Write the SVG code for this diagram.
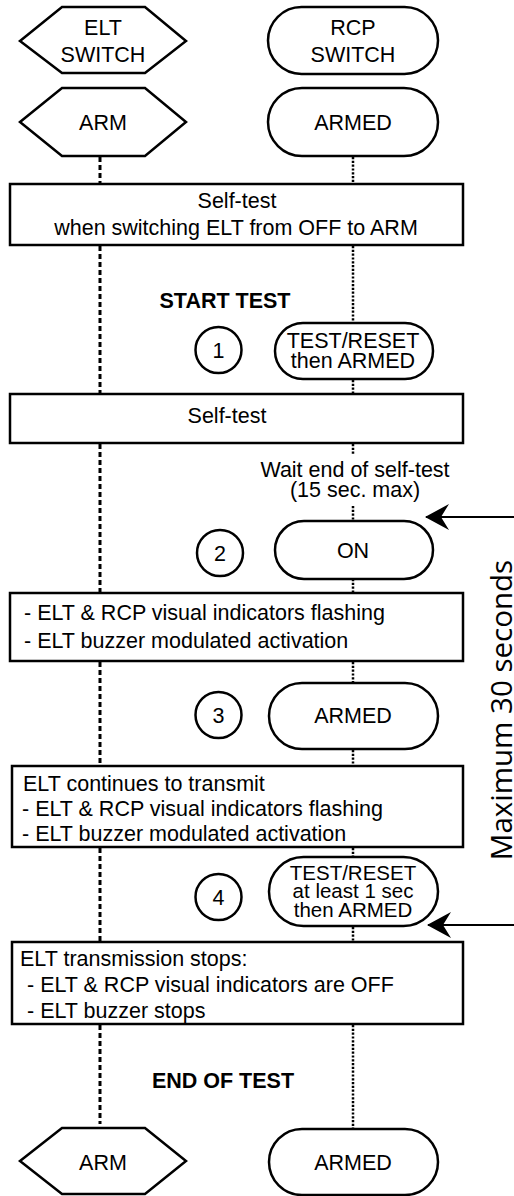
<svg xmlns="http://www.w3.org/2000/svg" width="514" height="1196" viewBox="0 0 514 1196">
<style>
.s{fill:#fff;stroke:#000;stroke-width:2.5}
.t{font-family:"Liberation Sans",Arial,sans-serif;font-size:21.5px;fill:#000}
.c{text-anchor:middle}
.b{font-weight:bold}
.n{font-size:20.5px}
.dash{stroke:#000;stroke-width:3;stroke-dasharray:5 3;fill:none}
.dot{stroke:#000;stroke-width:2.5;stroke-dasharray:2.2 1.6;fill:none}
.arr{stroke:#000;stroke-width:2;fill:none}
</style>
<defs>
<marker id="ah" viewBox="0 0 24 26" refX="23" refY="13" markerWidth="24" markerHeight="26" markerUnits="userSpaceOnUse" orient="auto">
<path d="M24,13 L0,0 L8,13 L0,26 Z" fill="#000"/>
</marker>
</defs>
<rect width="514" height="1196" fill="#fff"/>
<g id="connectors">
<line class="dash" x1="100" y1="157" x2="100" y2="184"/>
<line class="dash" x1="100" y1="246" x2="100" y2="394"/>
<line class="dash" x1="100" y1="444" x2="100" y2="593"/>
<line class="dash" x1="100" y1="662" x2="100" y2="766"/>
<line class="dash" x1="100" y1="848" x2="100" y2="942"/>
<line class="dash" x1="100" y1="1025" x2="100" y2="1124"/>
<line class="dot" x1="353" y1="157" x2="353" y2="184"/>
<line class="dot" x1="353" y1="246" x2="353" y2="322"/>
<line class="dot" x1="353" y1="380" x2="353" y2="394"/>
<line class="dot" x1="353" y1="444" x2="353" y2="455"/>
<line class="dot" x1="353" y1="506" x2="353" y2="521"/>
<line class="dot" x1="353" y1="579" x2="353" y2="593"/>
<line class="dot" x1="353" y1="662" x2="353" y2="683"/>
<line class="dot" x1="353" y1="750" x2="353" y2="766"/>
<line class="dot" x1="353" y1="848" x2="353" y2="857"/>
<line class="dot" x1="353" y1="927" x2="353" y2="942"/>
<line class="dot" x1="353" y1="1025" x2="353" y2="1129"/>
<line class="arr" x1="514" y1="517" x2="426" y2="517" marker-end="url(#ah)"/>
<line class="arr" x1="514" y1="925" x2="428" y2="925" marker-end="url(#ah)"/>
</g>
<g id="elt-switch">
<polygon class="s" points="20,41 62,7 145,7 186,41 145,73 62,73"/>
<text class="t c" x="103" y="35">ELT</text>
<text class="t c" x="103" y="62">SWITCH</text>
</g>
<g id="rcp-switch">
<rect class="s" x="268" y="7" width="170" height="67" rx="33.5"/>
<text class="t c" x="353" y="35">RCP</text>
<text class="t c" x="353" y="62">SWITCH</text>
</g>
<g id="elt-arm-top">
<polygon class="s" points="20,122 62,88 145,88 186,122 145,156 62,156"/>
<text class="t c" x="103" y="130">ARM</text>
</g>
<g id="rcp-armed-top">
<rect class="s" x="268" y="88" width="170" height="68" rx="34"/>
<text class="t c" x="353" y="130">ARMED</text>
</g>
<g id="box-selftest-1">
<rect class="s" x="10" y="184" width="453" height="61"/>
<text class="t c" x="237" y="208">Self-test</text>
<text class="t c" x="236" y="235">when switching ELT from OFF to ARM</text>
</g>
<g id="start-test">
<text class="t c b" x="225" y="308">START TEST</text>
</g>
<g id="step-1">
<circle class="s" cx="218.5" cy="350" r="23"/>
<text class="t c" x="218.5" y="358">1</text>
</g>
<g id="rcp-test-reset-1">
<rect class="s" x="275" y="323" width="158" height="56" rx="28"/>
<text class="t c" x="353" y="348">TEST/RESET</text>
<text class="t c" x="353" y="368">then ARMED</text>
</g>
<g id="box-selftest-2">
<rect class="s" x="10" y="394" width="453" height="49"/>
<text class="t c" x="227" y="423">Self-test</text>
</g>
<g id="wait-label">
<text class="t c" x="355" y="477">Wait end of self-test</text>
<text class="t c" x="355" y="497">(15 sec. max)</text>
</g>
<g id="step-2">
<circle class="s" cx="220" cy="553" r="23"/>
<text class="t c" x="220" y="561">2</text>
</g>
<g id="rcp-on">
<rect class="s" x="275" y="521" width="158" height="58" rx="29"/>
<text class="t c" x="353" y="558">ON</text>
</g>
<g id="box-flashing">
<rect class="s" x="10" y="593" width="453" height="68"/>
<text class="t" x="24" y="620">- ELT &amp; RCP visual indicators flashing</text>
<text class="t" x="24" y="648">- ELT buzzer modulated activation</text>
</g>
<g id="step-3">
<circle class="s" cx="218.5" cy="715" r="23"/>
<text class="t c" x="218.5" y="723">3</text>
</g>
<g id="rcp-armed-3">
<rect class="s" x="269" y="683" width="169" height="66" rx="33"/>
<text class="t c" x="353" y="723">ARMED</text>
</g>
<g id="box-continues">
<rect class="s" x="12" y="766" width="451" height="81"/>
<text class="t" x="23" y="791">ELT continues to transmit</text>
<text class="t" x="22" y="816">- ELT &amp; RCP visual indicators flashing</text>
<text class="t" x="22" y="841">- ELT buzzer modulated activation</text>
</g>
<g id="step-4">
<circle class="s" cx="218.5" cy="897" r="23"/>
<text class="t c" x="218.5" y="905">4</text>
</g>
<g id="rcp-test-reset-4">
<rect class="s" x="269" y="857" width="169" height="69" rx="34.5"/>
<text class="t c n" x="353" y="880">TEST/RESET</text>
<text class="t c n" x="353" y="898">at least 1 sec</text>
<text class="t c n" x="353" y="917">then ARMED</text>
</g>
<g id="box-stops">
<rect class="s" x="12" y="942" width="451" height="82"/>
<text class="t" x="20" y="966">ELT transmission stops:</text>
<text class="t" x="27" y="992">- ELT &amp; RCP visual indicators are OFF</text>
<text class="t" x="27" y="1018">- ELT buzzer stops</text>
</g>
<g id="end-test">
<text class="t c b" x="223" y="1088">END OF TEST</text>
</g>
<g id="elt-arm-bottom">
<polygon class="s" points="20,1161 62,1128 145,1128 186,1161 145,1194 62,1194"/>
<text class="t c" x="103" y="1170">ARM</text>
</g>
<g id="rcp-armed-bottom">
<rect class="s" x="269" y="1129" width="169" height="66" rx="33"/>
<text class="t c" x="353" y="1170">ARMED</text>
</g>
<g id="max-label">
<text x="512" y="710" transform="rotate(-90 512 710)" text-anchor="middle" font-family="'Open Sans',sans-serif" font-size="29.5" fill="#000">Maximum 30 seconds</text>
</g>
</svg>
